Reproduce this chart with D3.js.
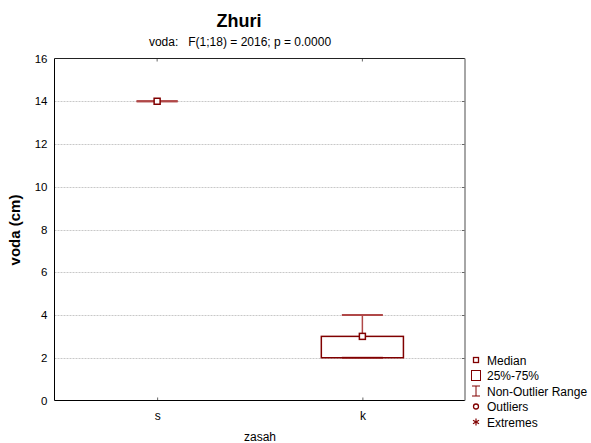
<!DOCTYPE html>
<html><head><meta charset="utf-8">
<script src="https://cdn.jsdelivr.net/npm/d3@7"></script>
<style>body{margin:0;background:#fff}svg{display:block;font-family:"Liberation Sans",Arial,sans-serif}</style>
</head><body>
<svg id="c" width="591" height="443"></svg>
<script>
const categories = ["s", "k"];
const medians = [14, 3];
const q25 = [14, 2];
const q75 = [14, 3];
const whiskerLow = [14, 2];
const whiskerHigh = [14, 4];
const yTicks = [0, 2, 4, 6, 8, 10, 12, 14, 16];
const legendItems = ["Median", "25%-75%", "Non-Outlier Range", "Outliers", "Extremes"];

const svg = d3.select("#c");
const L = 54.5, R = 465, T = 58.5, B = 400.5;
const col = "#800000";
const x = d3.scalePoint().domain(categories).range([L, R]).padding(0.5);
const y = d3.scaleLinear().domain([0, 16]).range([B, T]);
const step = x.step();

// grid
svg.append("g").selectAll("line").data(yTicks.filter(t => t > 0 && t < 16)).join("line")
  .attr("x1", L).attr("x2", R).attr("y1", d => Math.round(y(d)) + 0.5).attr("y2", d => Math.round(y(d)) + 0.5)
  .attr("stroke", "#c8c8c8").attr("stroke-width", 1).attr("stroke-dasharray", "2,1");

// axes
const ya = svg.append("g").attr("transform", `translate(${L},0)`)
  .call(d3.axisLeft(y).tickValues(yTicks).tickSize(0).tickPadding(7));
ya.select(".domain").remove();
ya.selectAll("text").attr("font-size", 11.5).attr("fill", "#000").attr("font-family", "Liberation Sans, Arial, sans-serif");

const xa = svg.append("g").attr("transform", `translate(0,${B})`)
  .call(d3.axisBottom(x).tickSize(-3).tickPadding(11));
xa.select(".domain").remove();
xa.selectAll("line").attr("stroke", "#666");
xa.selectAll("text").attr("font-size", 12).attr("fill", "#000").attr("font-family", "Liberation Sans, Arial, sans-serif");
svg.append("g").selectAll("line").data(categories).join("line")
  .attr("x1", d => x(d)).attr("x2", d => x(d)).attr("y1", T).attr("y2", T + 3).attr("stroke", "#666");
svg.append("g").selectAll("line").data(yTicks.filter(t => t > 0 && t < 16)).join("line")
  .attr("x1", R - 3).attr("x2", R).attr("y1", d => Math.round(y(d)) + 0.5).attr("y2", d => Math.round(y(d)) + 0.5).attr("stroke", "#666");

// frame
svg.append("line").attr("x1", L).attr("x2", L).attr("y1", T).attr("y2", B).attr("stroke", "#000");
svg.append("line").attr("x1", L).attr("x2", R).attr("y1", B).attr("y2", B).attr("stroke", "#000");
svg.append("line").attr("x1", L).attr("x2", R).attr("y1", T).attr("y2", T).attr("stroke", "#222");
svg.append("line").attr("x1", R).attr("x2", R).attr("y1", T).attr("y2", B).attr("stroke", "#888").attr("stroke-width", 1.5);

// boxes
const bw = step * 0.4, cw = step * 0.2;
const g = svg.append("g");
categories.forEach((c, i) => {
  const cx = x(c);
  g.append("line").attr("x1", cx).attr("x2", cx).attr("y1", y(whiskerHigh[i])).attr("y2", y(q75[i]))
    .attr("stroke", "#b04848").attr("stroke-width", 1.5);
  g.append("line").attr("x1", cx).attr("x2", cx).attr("y1", y(whiskerLow[i])).attr("y2", y(q25[i]))
    .attr("stroke", "#b04848").attr("stroke-width", 1.5);
  g.append("line").attr("x1", cx - cw / 2).attr("x2", cx + cw / 2).attr("y1", y(whiskerHigh[i])).attr("y2", y(whiskerHigh[i]))
    .attr("stroke", "#b04848").attr("stroke-width", 2);
  g.append("line").attr("x1", cx - cw / 2).attr("x2", cx + cw / 2).attr("y1", y(whiskerLow[i])).attr("y2", y(whiskerLow[i]))
    .attr("stroke", "#b04848").attr("stroke-width", 2);
  g.append("rect").attr("x", cx - bw / 2).attr("y", y(q75[i])).attr("width", bw)
    .attr("height", Math.max(0, y(q25[i]) - y(q75[i])))
    .attr("fill", "none").attr("stroke", col).attr("stroke-width", 1.5);
  g.append("rect").attr("x", cx - 3).attr("y", y(medians[i]) - 3).attr("width", 6).attr("height", 6)
    .attr("fill", "#fff").attr("stroke", col).attr("stroke-width", 1.5);
});

// titles
svg.append("text").attr("x", 239).attr("y", 27).attr("text-anchor", "middle")
  .attr("font-size", 18).attr("font-weight", "bold").text("Zhuri");
svg.append("text").attr("x", 240).attr("y", 46).attr("text-anchor", "middle")
  .attr("font-size", 12).attr("xml:space", "preserve").text("voda:   F(1;18) = 2016; p = 0.0000");
svg.append("text").attr("transform", "translate(20,230) rotate(-90)").attr("text-anchor", "middle")
  .attr("font-size", 15).attr("font-weight", "bold").text("voda (cm)");
svg.append("text").attr("x", 260).attr("y", 441).attr("text-anchor", "middle")
  .attr("font-size", 12).text("zasah");

// legend
const lx = 476, ly0 = 360, ldy = 15.5;
const lg = svg.append("g");
legendItems.forEach((t, i) => {
  lg.append("text").attr("x", 487).attr("y", ly0 + i * ldy + 4.5).attr("font-size", 12).text(t);
});
lg.append("rect").attr("x", lx - 2.5).attr("y", ly0 - 2.5).attr("width", 5).attr("height", 5).attr("fill", "#fff").attr("stroke", col).attr("stroke-width", 1.3);
lg.append("rect").attr("x", lx - 4.5).attr("y", ly0 + ldy - 5).attr("width", 9).attr("height", 10).attr("fill", "none").attr("stroke", col).attr("stroke-width", 1);
const wy = ly0 + 2 * ldy;
lg.append("line").attr("x1", lx).attr("x2", lx).attr("y1", wy - 5).attr("y2", wy + 5).attr("stroke", col);
lg.append("line").attr("x1", lx - 4).attr("x2", lx + 4).attr("y1", wy - 5).attr("y2", wy - 5).attr("stroke", col);
lg.append("line").attr("x1", lx - 4).attr("x2", lx + 4).attr("y1", wy + 5).attr("y2", wy + 5).attr("stroke", col);
lg.append("circle").attr("cx", lx).attr("cy", ly0 + 3 * ldy).attr("r", 2.5).attr("fill", "none").attr("stroke", col).attr("stroke-width", 1.3);
const ey = ly0 + 4 * ldy;
[0, 60, 120].forEach(a => {
  const r = a * Math.PI / 180;
  lg.append("line").attr("x1", lx - 3.5 * Math.sin(r)).attr("x2", lx + 3.5 * Math.sin(r))
    .attr("y1", ey - 3.5 * Math.cos(r)).attr("y2", ey + 3.5 * Math.cos(r)).attr("stroke", col).attr("stroke-width", 1.2);
});
</script>
</body></html>
